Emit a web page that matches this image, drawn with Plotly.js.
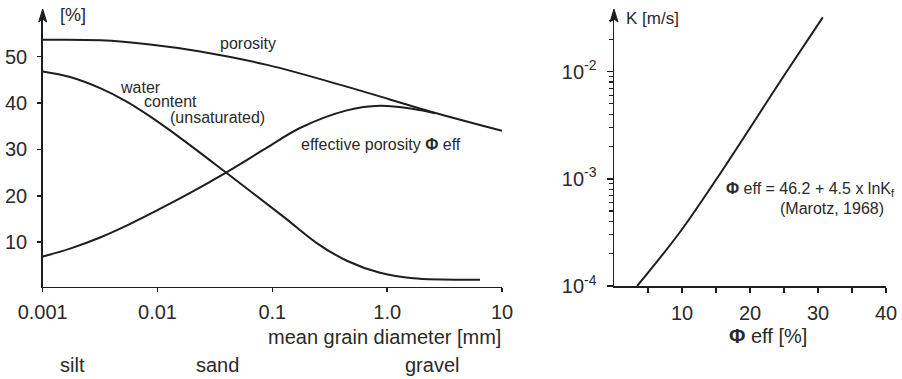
<!DOCTYPE html>
<html>
<head>
<meta charset="utf-8">
<script src="https://cdn.plot.ly/plotly-3.0.1.min.js"></script>
<style>html,body{margin:0;padding:0;background:#fff;}#chart{width:902px;height:379px;}</style>
</head>
<body>
<div id="chart"></div>
<script>
// ---- data ----
const porosityD = [0.001, 0.0032, 0.0086, 0.0235, 0.09, 0.475, 2.5, 10];
const porosityV = [53.6, 53.5, 52.6, 51.1, 48.2, 43.3, 38.0, 34.0];

const waterD = [0.001, 0.00173, 0.00316, 0.0052, 0.0086, 0.01675, 0.0395, 0.1247, 0.2436, 0.4452, 0.867, 1.69, 6.44];
const waterV = [46.8, 45.6, 43.2, 40.5, 37.1, 32.0, 25.0, 15.5, 9.8, 6.0, 3.4, 2.2, 1.9];

const effD = [0.001, 0.00173, 0.00316, 0.0052, 0.0086, 0.01675, 0.0395, 0.089, 0.174, 0.4452, 0.867, 1.69, 2.6];
const effV = [6.9, 8.6, 11.0, 13.4, 16.1, 19.8, 25.0, 30.3, 34.6, 38.4, 39.4, 38.7, 37.8];

const phiEff = [3.4, 9.6, 15.1, 25.4, 30.7];
const kVals = [1e-4, 3.12e-4, 1.0e-3, 1.0e-2, 3.2e-2];

const leftXTickVals = [0.001, 0.01, 0.1, 1, 10];
const leftXTickText = ["0.001", "0.01", "0.1", "1.0", "10"];
const leftYTickVals = [10, 20, 30, 40, 50];
const rightXTickVals = [10, 20, 30, 40];
const rightXMinor = [5, 15, 25, 35];
const rightYTickVals = [1e-4, 1e-3, 1e-2];
const rightYTickText = ["10<sup>-4</sup>", "10<sup>-3</sup>", "10<sup>-2</sup>"];
const rightYMinor = [2e-4,3e-4,4e-4,5e-4,6e-4,7e-4,8e-4,9e-4,2e-3,3e-3,4e-3,5e-3,6e-3,7e-3,8e-3,9e-3,2e-2,3e-2];

// ---- layout helpers ----
const W = 902, H = 379;
const px = x => x / W;
const py = y => 1 - y / H;
const FONT = "Liberation Sans, Arial, sans-serif";
const INK = "#1e1e1e";
const TXT = "#2a2a2a";

const lineStyle = {color: INK, width: 2, shape: 'spline', smoothing: 1};

const traces = [
  {x: porosityD, y: porosityV, xaxis: 'x', yaxis: 'y', mode: 'lines', line: lineStyle, name: 'porosity'},
  {x: waterD, y: waterV, xaxis: 'x', yaxis: 'y', mode: 'lines', line: lineStyle, name: 'water content'},
  {x: effD, y: effV, xaxis: 'x', yaxis: 'y', mode: 'lines', line: lineStyle, name: 'effective porosity'},
  {x: phiEff, y: kVals, xaxis: 'x2', yaxis: 'y2', mode: 'lines', line: lineStyle, name: 'K'}
];

const axisCommon = {
  showgrid: false, zeroline: false, showline: true, linecolor: INK, linewidth: 1.5,
  ticks: 'outside', tickcolor: INK, tickwidth: 1.5, ticklen: 4,
  tickfont: {family: FONT, size: 20, color: TXT}, fixedrange: true
};

function ann(text, x, y, xanchor, size) {
  return {text: text, x: px(x), y: py(y), xref: 'paper', yref: 'paper',
    xanchor: xanchor || 'left', yanchor: 'middle', showarrow: false,
    font: {family: FONT, size: size || 16, color: TXT}};
}
function arrowHead(x, yTip) {
  const hw = 4, h = 13;
  const path = 'M ' + px(x) + ',' + py(yTip) +
    ' L ' + px(x - hw) + ',' + py(yTip + h) +
    ' L ' + px(x) + ',' + py(yTip + h - 3) +
    ' L ' + px(x + hw) + ',' + py(yTip + h) + ' Z';
  return {type: 'path', xref: 'paper', yref: 'paper', path: path,
    fillcolor: INK, line: {color: INK, width: 1}};
}

const layout = {
  width: W, height: H, autosize: false,
  margin: {l: 0, r: 0, t: 0, b: 0, pad: 0},
  paper_bgcolor: '#fff', plot_bgcolor: 'rgba(0,0,0,0)',
  showlegend: false,
  xaxis: Object.assign({}, axisCommon, {
    type: 'log', range: [-3, 1], domain: [px(42.7), px(502)],
    tickmode: 'array', tickvals: leftXTickVals, ticktext: leftXTickText,
    anchor: 'y', ticklabelstandoff: 3
  }),
  yaxis: Object.assign({}, axisCommon, {
    range: [0.4, 59.17], domain: [py(286.7), py(14)],
    tickmode: 'array', tickvals: leftYTickVals,
    anchor: 'x', ticklabelstandoff: 6
  }),
  xaxis2: Object.assign({}, axisCommon, {
    range: [0, 40], domain: [px(614), px(886)],
    tickmode: 'array', tickvals: rightXTickVals, ticklen: 5,
    minor: {tickmode: 'array', tickvals: rightXMinor, ticks: 'outside', ticklen: 5, tickwidth: 1.5, tickcolor: INK},
    anchor: 'y2', ticklabelstandoff: 3
  }),
  yaxis2: Object.assign({}, axisCommon, {
    type: 'log', range: [-4, -1.463], domain: [py(286), py(14)],
    tickmode: 'array', tickvals: rightYTickVals, ticktext: rightYTickText, ticklen: 6,
    minor: {tickmode: 'array', tickvals: rightYMinor, ticks: 'outside', ticklen: 4, tickwidth: 1.2, tickcolor: INK},
    anchor: 'x2', ticklabelstandoff: 6
  }),
  shapes: [arrowHead(42.7, 9), arrowHead(614, 9)],
  annotations: [
    ann('[%]', 58, 15, 'left', 18),
    ann('K [m/s]', 624, 18, 'left', 17),
    ann('porosity', 218, 43, 'left', 16),
    ann('water', 118, 87, 'left', 16),
    ann('content', 141.5, 101, 'left', 16),
    ann('(unsaturated)', 168, 117, 'left', 16),
    ann('effective porosity <b>Φ</b> eff', 299, 145, 'left', 16),
    ann('mean grain diameter [mm]', 503, 337, 'right', 20),
    ann('silt', 58, 365, 'left', 20),
    ann('sand', 194, 365, 'left', 20),
    ann('gravel', 403, 365, 'left', 20),
    ann('<b>Φ</b> eff = 46.2 + 4.5 x lnK<sub>f</sub>', 724, 189, 'left', 16),
    ann('(Marotz, 1968)', 778, 208, 'left', 16),
    ann('<b>Φ</b> eff [%]', 768, 336, 'center', 20)
  ]
};

Plotly.newPlot('chart', traces, layout, {staticPlot: true, displayModeBar: false});
</script>
</body>
</html>
